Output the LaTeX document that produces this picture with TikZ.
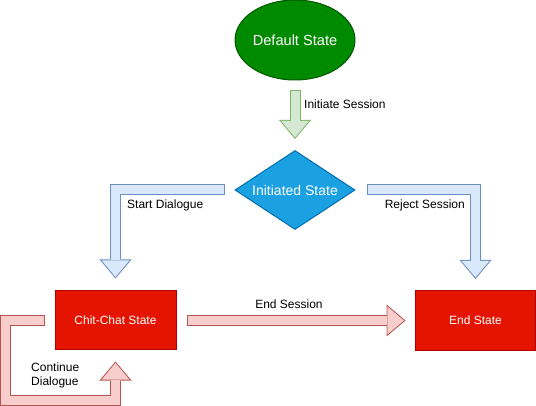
\documentclass[tikz,border=0pt]{standalone}
\usepackage{fontspec}
\setmainfont{Liberation Sans}
\usetikzlibrary{%
  arrows.meta,%
  calc,%
  shapes.geometric%
}
\definecolor{dfltfill}{HTML}{008A00}
\definecolor{dfltline}{HTML}{005700}
\definecolor{initfill}{HTML}{1BA1E2}
\definecolor{initline}{HTML}{006EAF}
\definecolor{redfill}{HTML}{E51400}
\definecolor{redline}{HTML}{B20000}
\definecolor{grnfill}{HTML}{D5E8D4}
\definecolor{grnline}{HTML}{82B366}
\definecolor{blufill}{HTML}{DAE8FC}
\definecolor{bluline}{HTML}{6C8EBF}
\definecolor{pnkfill}{HTML}{F8CECC}
\definecolor{pnkline}{HTML}{B85450}
\tikzset{>=latex,%
  state/.style={draw=#1,line width=1pt,text=white,inner sep=0pt},
  lbl/.style={font=\fontsize{12}{14}\selectfont,inner sep=0pt},
  flexarrow/.style 2 args={draw=#1,line width=9pt,shorten <=1pt,shorten >=1.56pt,
    -{Triangle[length=16.45pt,width=27.7pt,line width=0pt]},
    preaction={draw=#2,line width=11pt,shorten <=0pt,shorten >=0pt,
      -{Triangle[length=19pt,width=32pt,line width=0pt]}}}}

\begin{document}
\begin{tikzpicture}[x=1pt,y=-1pt]
    \useasboundingbox[fill=white] (0,0) rectangle (536,406);
    \node[state=dfltline,fill=dfltfill,ellipse,minimum width=120pt,minimum height=80pt,
      font=\fontsize{14.6}{17}\selectfont] (dflt) at (295,40) {Default State};
    \node[state=initline,fill=initfill,diamond,aspect=1.5,minimum width=120pt,minimum height=79pt,
      font=\fontsize{14}{17}\selectfont] (init) at (295,190) {Initiated State};
    \node[state=redline,fill=redfill,minimum width=121pt,minimum height=59pt,
      font=\fontsize{12}{14}\selectfont] (chit) at (115.5,320.5) {Chit-Chat State};
    \node[state=redline,fill=redfill,minimum width=120pt,minimum height=60pt,
      font=\fontsize{12}{14}\selectfont] (fin) at (475.5,320.5) {End State};
    % block arrows
    \draw[flexarrow={grnfill}{grnline}] ($(dflt.south)+(0,10)$) -- ($(init.north)+(0,-11)$);
    \draw[flexarrow={blufill}{bluline}] ($(init.west)+(-10,0)$) -| ($(chit.north)+(0,-12)$);
    \draw[flexarrow={blufill}{bluline}] ($(init.east)+(11,0)$) -| ($(fin.north)+(0,-11)$);
    \draw[flexarrow={pnkfill}{pnkline}] ($(chit.east)+(10,0)$) -- ($(fin.west)+(-9.5,0)$);
    \draw[flexarrow={pnkfill}{pnkline}] ($(chit.west)+(-10,0)$) -| (5.5,400.5)
      -| ($(chit.south)+(0,11)$);
    % labels
    \node[lbl,anchor=west] (lini) at (304,104) {Initiate Session};
    \node[lbl,anchor=west] (lstart) at (127,205) {Start Dialogue};
    \node[lbl,anchor=east] (lrej) at (465,205) {Reject Session};
    \node[lbl] (lend) at (289,304.5) {End Session};
    \node[lbl,anchor=west,align=left] (lcont) at (31,375) {Continue\\Dialogue};
\end{tikzpicture}
\end{document}
